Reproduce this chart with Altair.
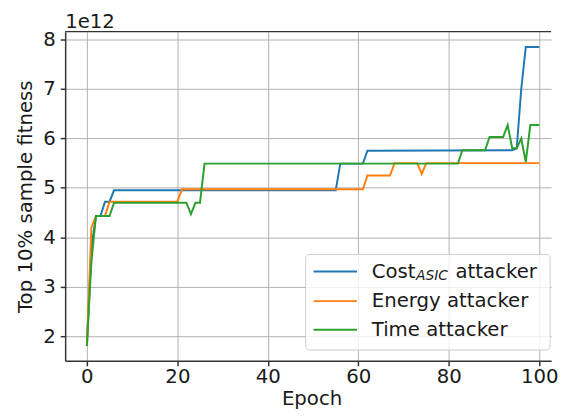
import altair as alt
import pandas as pd

# ---- data (values in units of 1e12) ----
series_names = ["Cost_ASIC attacker", "Energy attacker", "Time attacker"]
series_colors = ["#1f77b4", "#ff7f0e", "#2ca02c"]

cost_epoch = [0, 1, 2, 3, 4, 5, 6, 55, 56, 61, 62, 94, 95, 96, 97, 100]
cost_value = [1.8, 3.8, 4.43, 4.43, 4.72, 4.72, 4.95, 4.95, 5.49, 5.49, 5.75, 5.76, 5.8, 7.0, 7.85, 7.85]

energy_epoch = [0, 1, 2, 4, 5, 20, 21, 61, 62, 67, 68, 73, 74, 75, 100]
energy_value = [1.8, 4.2, 4.43, 4.43, 4.72, 4.72, 4.97, 4.97, 5.25, 5.25, 5.5, 5.5, 5.28, 5.5, 5.5]

time_epoch = [0, 1, 2, 5, 6, 22, 23, 24, 25, 26, 82, 83, 88, 89, 92, 93, 94, 95, 96, 97, 98, 100]
time_value = [1.8, 3.5, 4.43, 4.43, 4.7, 4.7, 4.47, 4.7, 4.7, 5.49, 5.49, 5.76, 5.76, 6.03, 6.03, 6.27, 5.8, 5.8, 6.0, 5.52, 6.27, 6.27]

x_ticks = [0, 20, 40, 60, 80, 100]
y_ticks = [2, 3, 4, 5, 6, 7, 8]
x_domain = [-4.8, 102.6]
y_domain = [1.5, 8.16]

W, H = 493, 334
FONT = "DejaVu Sans"
TXT = "#1a1a1a"

frames = []
for name, ep, val in zip(series_names,
                         [cost_epoch, energy_epoch, time_epoch],
                         [cost_value, energy_value, time_value]):
    frames.append(pd.DataFrame({"epoch": ep, "value": val, "series": name}))

xs = alt.Scale(domain=x_domain, nice=False, zero=False)
ys = alt.Scale(domain=y_domain, nice=False, zero=False)

x_axis = alt.Axis(values=x_ticks, format="d", grid=True, gridColor="#b0b0b0", gridWidth=1,
                  domainColor="#333333", domainWidth=1.5, tickColor="#333333", tickWidth=1.5,
                  tickSize=5, labelFont=FONT, labelFontSize=20, labelColor=TXT, labelPadding=1,
                  title="Epoch", titleFont=FONT, titleFontSize=20, titleFontWeight="normal",
                  titleColor=TXT, titleBaseline="alphabetic", titleY=44, titleX=250)
y_axis = alt.Axis(values=y_ticks, format="d", grid=True, gridColor="#b0b0b0", gridWidth=1,
                  domainColor="#333333", domainWidth=1.5, tickColor="#333333", tickWidth=1.5,
                  tickSize=5, labelFont=FONT, labelFontSize=20, labelColor=TXT, labelPadding=5,
                  title="Top 10% sample fitness", titleFont=FONT, titleFontSize=20,
                  titleFontWeight="normal", titleColor=TXT, titleBaseline="alphabetic",
                  titleX=-34, titleY=H / 2)

layers = []
for df, col in zip(frames, series_colors):
    layers.append(alt.Chart(df).mark_line(color=col, strokeWidth=2, clip=True).encode(
        x=alt.X("epoch:Q", scale=xs, axis=x_axis),
        y=alt.Y("value:Q", scale=ys, axis=y_axis),
    ))

one = pd.DataFrame({"a": [0]})

# top spine
layers.append(alt.Chart(one).mark_rule(color="#333333", strokeWidth=1.5).encode(
    x=alt.value(0), x2=alt.value(W), y=alt.value(0)))

# offset text
layers.append(alt.Chart(one).mark_text(text="1e12", font=FONT, fontSize=20, color=TXT,
                                        align="left", baseline="alphabetic").encode(
    x=alt.value(0), y=alt.value(-4)))

# legend
layers.append(alt.Chart(one).mark_rect(fill="white", fillOpacity=0.8, stroke="#cccccc",
                                        strokeWidth=1, cornerRadius=4).encode(
    x=alt.value(244), x2=alt.value(492), y=alt.value(226), y2=alt.value(323)))
row_y = [243.4, 273.4, 302.4]
for col, ry in zip(series_colors, row_y):
    layers.append(alt.Chart(one).mark_rule(color=col, strokeWidth=2).encode(
        x=alt.value(252), x2=alt.value(296), y=alt.value(ry)))

def txt(s, x, y, size=20, style="normal"):
    return alt.Chart(one).mark_text(text=s, font=FONT, fontSize=size, fontStyle=style,
                                    color=TXT, align="left", baseline="alphabetic").encode(
        x=alt.value(x), y=alt.value(y))

layers.append(txt("Cost", 311, 249.5))
layers.append(txt("ASIC", 356, 252, size=14, style="italic"))
layers.append(txt("attacker", 396, 249.5))
layers.append(txt("Energy attacker", 311, 279.5))
layers.append(txt("Time attacker", 311, 308.5))

chart = alt.layer(*layers).properties(
    width=W, height=H,
    padding={"left": 58, "top": 21, "right": 8, "bottom": 55},
    autosize=alt.AutoSizeParams(type="none"),
).configure_view(stroke=None)

chart.save("out.html", embed_options={"renderer": "svg", "actions": False})
